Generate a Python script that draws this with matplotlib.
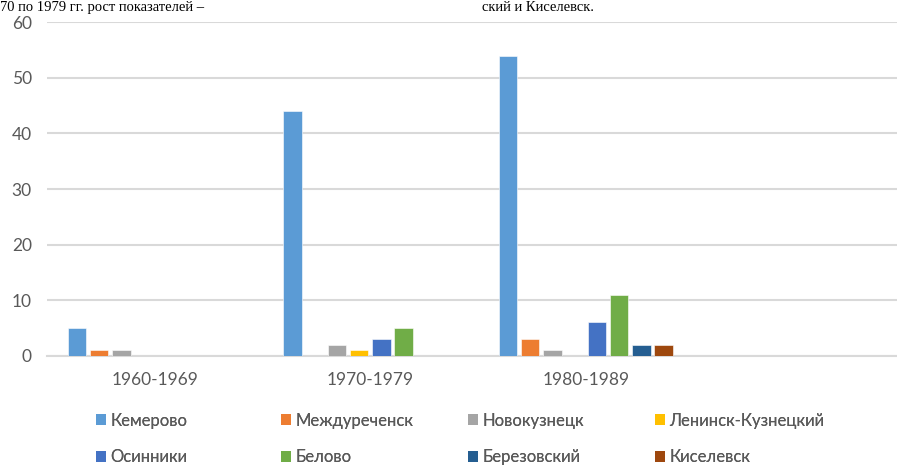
import matplotlib
matplotlib.use("Agg")
import matplotlib.pyplot as plt
import matplotlib.patches as mpatches
import numpy as np

categories = ["1960-1969", "1970-1979", "1980-1989", ""]
series_names = ["Кемерово", "Междуреченск", "Новокузнецк", "Ленинск-Кузнецкий",
                "Осинники", "Белово", "Березовский", "Киселевск"]
kemerovo = [5, 44, 54, 0]
mezhdurechensk = [1, 0, 3, 0]
novokuznetsk = [1, 2, 1, 0]
leninsk = [0, 1, 0, 0]
osinniki = [0, 3, 6, 0]
belovo = [0, 5, 11, 0]
berezovsky = [0, 0, 2, 0]
kiselevsk = [0, 0, 2, 0]
series_values = [kemerovo, mezhdurechensk, novokuznetsk, leninsk,
                 osinniki, belovo, berezovsky, kiselevsk]
y_ticks = [0, 10, 20, 30, 40, 50, 60]

colors = ["#5B9BD5", "#ED7D31", "#A5A5A5", "#FFC000",
          "#4472C4", "#70AD47", "#255E91", "#9E480E"]

W, H = 897, 469
fig = plt.figure(figsize=(W / 100, H / 100), dpi=100)
ax = fig.add_axes([47 / W, (H - 355.7) / H, (909 - 47) / W, (355.7 - 22.3) / H])

font = "Lato"
grey = "#595959"
fs = 12.5
x = np.arange(len(categories))
slot = 0.1033
bw = 0.086
handles = []
for i, (name, vals) in enumerate(zip(series_names, series_values)):
    ax.bar(x + (i - 3.5) * slot, vals, width=bw, color=colors[i],
           edgecolor="white", linewidth=0.4, zorder=3, label=name)
    handles.append(mpatches.Patch(facecolor=colors[i], edgecolor="none", label=name))

ax.set_xlim(-0.5, len(categories) - 0.5)
ax.set_ylim(0, 60)
ax.set_yticks(y_ticks)
ax.set_xticks(x)
ax.set_xticklabels(categories)
ax.grid(axis="y", color="#D9D9D9", linewidth=1.5, zorder=0)
for s in ["top", "right", "left"]:
    ax.spines[s].set_visible(False)
ax.spines["bottom"].set_color("#D9D9D9")
ax.spines["bottom"].set_linewidth(1.5)
ax.tick_params(axis="y", length=0, pad=11, labelsize=fs, labelcolor=grey)
ax.tick_params(axis="x", length=0, pad=12, labelsize=fs, labelcolor=grey)
for lab in ax.get_xticklabels() + ax.get_yticklabels():
    lab.set_fontfamily(font)

# legend: 4 columns, each its own legend for equal column pitch
col_x = [96, 281, 468, 655]
for j in range(4):
    hs = [handles[j], handles[j + 4]]
    lg = fig.legend(handles=hs, loc="center left",
                    bbox_to_anchor=(col_x[j] / W, (H - 439) / H),
                    frameon=False, ncol=1, borderpad=0, borderaxespad=0,
                    handlelength=0.6, handleheight=0.6, handletextpad=0.25,
                    labelspacing=1.25, prop={"family": font, "size": 12})
    for t in lg.get_texts():
        t.set_color(grey)
    fig.add_artist(lg)

# line of document text above the chart (cropped in the source)
fig.text(0, 1 - 1 / H, "70 по 1979 гг. рост показателей –",
         family="Liberation Serif", fontsize=10.5, va="top", ha="left", color="black")
fig.text(482 / W, 1 - 1 / H, "ский и Киселевск.",
         family="Liberation Serif", fontsize=10.5, va="top", ha="left", color="black")

fig.savefig("out.png", dpi=100, facecolor="white")
